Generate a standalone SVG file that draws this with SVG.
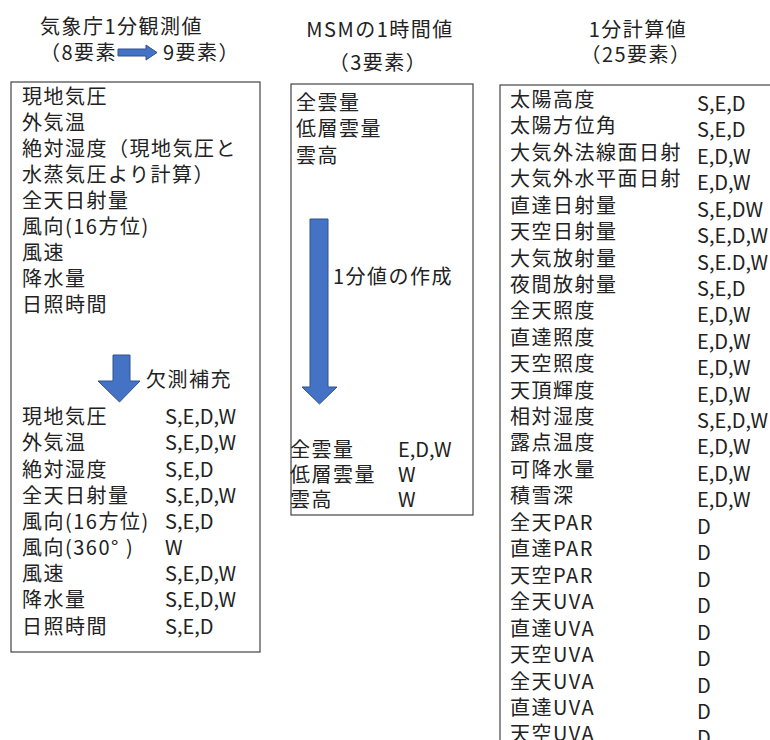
<svg xmlns="http://www.w3.org/2000/svg" width="770" height="740" viewBox="0 0 770 740">
<style>
text{font-family:"Noto Sans CJK JP","Noto Sans CJK SC",sans-serif;font-size:20px;fill:#222;}
.j{letter-spacing:1.5px;}
.box{fill:#fff;stroke:#444;stroke-width:1.2;}
.arr{fill:#4472C4;stroke:#2F528F;stroke-width:1;}
</style>
<rect width="770" height="740" fill="#fff"/>

<g id="title-jma">
<text class="j" x="40" y="34">気象庁1分観測値</text>
<text class="j" x="40" y="60">（8要素</text>
<text class="j" x="163" y="60">9要素）</text>
<path class="arr" d="M118,49 H146 V45 L157,52.5 L146,60 V56 H118 Z"/>
</g>

<g id="title-msm">
<text class="j" x="380" y="37" text-anchor="middle">MSMの1時間値</text>
<text class="j" x="378" y="70" text-anchor="middle">（3要素）</text>
</g>

<g id="title-calc">
<text class="j" x="638" y="37" text-anchor="middle">1分計算値</text>
<text class="j" x="636" y="62" text-anchor="middle">（25要素）</text>
</g>

<g id="box-jma">
<rect class="box" x="11" y="82" width="249" height="570"/>
<text class="j" x="22" y="104">現地気圧</text>
<text class="j" x="22" y="130">外気温</text>
<text class="j" x="22" y="156">絶対湿度（現地気圧と</text>
<text class="j" x="22" y="182">水蒸気圧より計算）</text>
<text class="j" x="22" y="208">全天日射量</text>
<text class="j" x="22" y="234">風向(16方位)</text>
<text class="j" x="22" y="260">風速</text>
<text class="j" x="22" y="286">降水量</text>
<text class="j" x="22" y="312">日照時間</text>
<path class="arr" d="M113,355 H130 V381 H140 L119.5,402 L98,381 H113 Z"/>
<text class="j" x="146" y="387">欠測補充</text>
<text class="j" x="22" y="424">現地気圧</text><text x="165" y="424">S,E,D,W</text>
<text class="j" x="22" y="450">外気温</text><text x="165" y="450">S,E,D,W</text>
<text class="j" x="22" y="477">絶対湿度</text><text x="165" y="477">S,E,D</text>
<text class="j" x="22" y="503">全天日射量</text><text x="165" y="503">S,E,D,W</text>
<text class="j" x="22" y="529">風向(16方位)</text><text x="165" y="529">S,E,D</text>
<text class="j" x="22" y="555">風向(360°  )</text><text x="165" y="555">W</text>
<text class="j" x="22" y="581">風速</text><text x="165" y="581">S,E,D,W</text>
<text class="j" x="22" y="607">降水量</text><text x="165" y="607">S,E,D,W</text>
<text class="j" x="22" y="634">日照時間</text><text x="165" y="634">S,E,D</text>
</g>

<g id="box-msm">
<rect class="box" x="291" y="84" width="182" height="431"/>
<text class="j" x="296" y="110">全雲量</text>
<text class="j" x="296" y="136">低層雲量</text>
<text class="j" x="296" y="163">雲高</text>
<path class="arr" d="M310,219 H328 V387 H337 L319.5,404 L302,387 H310 Z"/>
<text class="j" x="333" y="284">1分値の作成</text>
<text class="j" x="290" y="457">全雲量</text><text x="398" y="457">E,D,W</text>
<text class="j" x="290" y="482">低層雲量</text><text x="398" y="482">W</text>
<text class="j" x="290" y="507">雲高</text><text x="398" y="507">W</text>
</g>

<g id="box-calc">
<rect class="box" x="500" y="85" width="300" height="700"/>
<text class="j" x="510" y="107">太陽高度</text><text x="697" y="111">S,E,D</text>
<text class="j" x="510" y="133">太陽方位角</text><text x="697" y="137">S,E,D</text>
<text class="j" x="510" y="160">大気外法線面日射</text><text x="697" y="164">E,D,W</text>
<text class="j" x="510" y="186">大気外水平面日射</text><text x="697" y="190">E,D,W</text>
<text class="j" x="510" y="213">直達日射量</text><text x="697" y="217">S,E,DW</text>
<text class="j" x="510" y="239">天空日射量</text><text x="697" y="243">S,E,D,W</text>
<text class="j" x="510" y="266">大気放射量</text><text x="697" y="270">S,E.D,W</text>
<text class="j" x="510" y="292">夜間放射量</text><text x="697" y="296">S,E,D</text>
<text class="j" x="510" y="318">全天照度</text><text x="697" y="322">E,D,W</text>
<text class="j" x="510" y="345">直達照度</text><text x="697" y="349">E,D,W</text>
<text class="j" x="510" y="371">天空照度</text><text x="697" y="375">E,D,W</text>
<text class="j" x="510" y="398">天頂輝度</text><text x="697" y="402">E,D,W</text>
<text class="j" x="510" y="424">相対湿度</text><text x="697" y="428">S,E,D,W</text>
<text class="j" x="510" y="450">露点温度</text><text x="697" y="454">E,D,W</text>
<text class="j" x="510" y="477">可降水量</text><text x="697" y="481">E,D,W</text>
<text class="j" x="510" y="503">積雪深</text><text x="697" y="507">E,D,W</text>
<text class="j" x="510" y="530">全天PAR</text><text x="697" y="534">D</text>
<text class="j" x="510" y="556">直達PAR</text><text x="697" y="560">D</text>
<text class="j" x="510" y="583">天空PAR</text><text x="697" y="587">D</text>
<text class="j" x="510" y="609">全天UVA</text><text x="697" y="613">D</text>
<text class="j" x="510" y="636">直達UVA</text><text x="697" y="640">D</text>
<text class="j" x="510" y="662">天空UVA</text><text x="697" y="666">D</text>
<text class="j" x="510" y="689">全天UVA</text><text x="697" y="693">D</text>
<text class="j" x="510" y="715">直達UVA</text><text x="697" y="719">D</text>
<text class="j" x="510" y="741">天空UVA</text><text x="697" y="745">D</text>
</g>
<g id="connectors"></g>
</svg>
